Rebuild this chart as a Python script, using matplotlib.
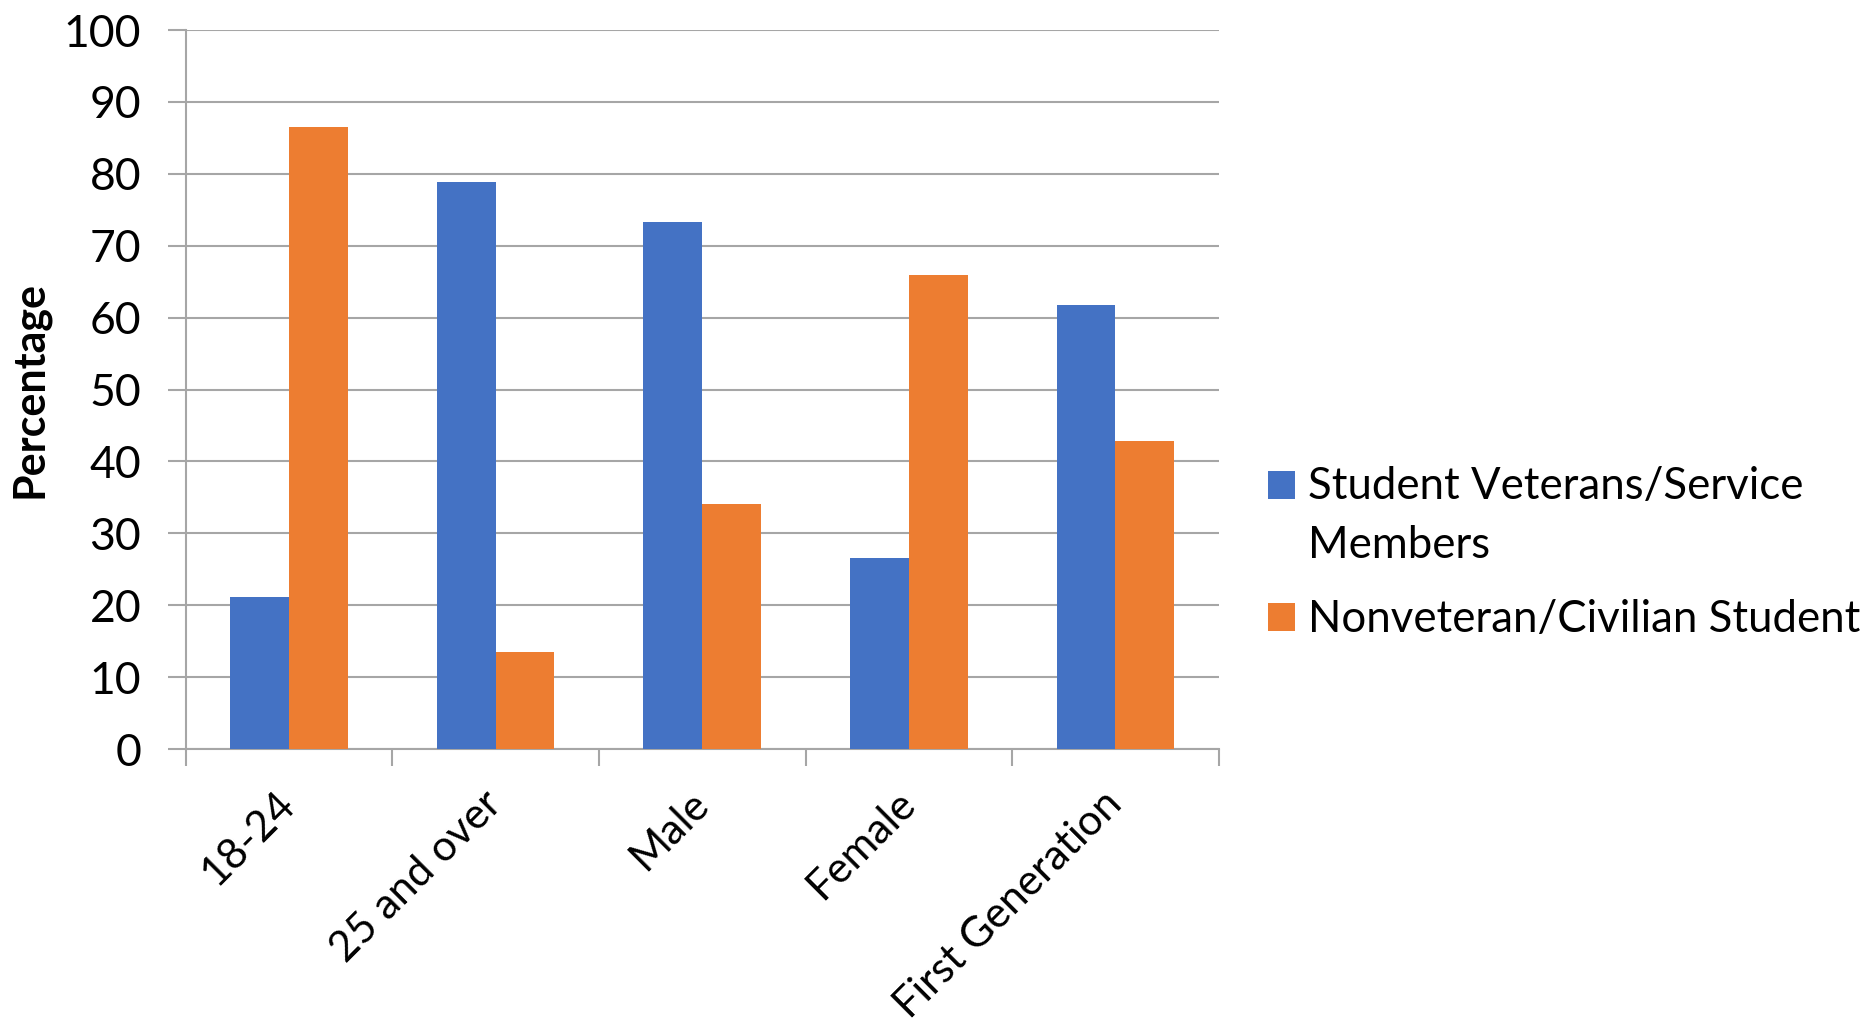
import numpy as np
import matplotlib
matplotlib.use("Agg")
import matplotlib.pyplot as plt

plt.rcParams['font.family'] = ['Lato', 'DejaVu Sans']

categories = ["18-24", "25 and over", "Male", "Female", "First Generation"]
veterans = [21.1, 78.9, 73.3, 26.6, 61.8]
civilians = [86.5, 13.5, 34.1, 65.9, 42.8]
series_names = ["Student Veterans/Service\nMembers", "Nonveteran/Civilian Student"]
yticks = list(range(0, 101, 10))

blue = '#4472C4'
orange = '#ED7D31'
grid = '#A6A6A6'
fs = 32

fig = plt.figure(figsize=(18.75, 10.36), dpi=100)
ax = fig.add_axes([0.099, 0.277, 0.551, 0.694])

x = np.arange(len(categories))
w = 0.285
ax.bar(x - w / 2, veterans, w, color=blue, label=series_names[0], zorder=3)
ax.bar(x + w / 2, civilians, w, color=orange, label=series_names[1], zorder=3)

ax.set_xlim(-0.5, len(categories) - 0.5)
ax.set_ylim(0, 100)
ax.set_yticks(yticks)
ax.tick_params(axis='y', labelsize=fs, length=13, width=1.5, color=grid, pad=19)
ax.yaxis.grid(True, color=grid, linewidth=1.5, zorder=0)

# category separators below the axis, labels at the centres
ax.set_xticks(np.arange(-0.5, len(categories), 1.0))
ax.set_xticks(x, minor=True)
ax.set_xticklabels([])
ax.set_xticklabels(categories, minor=True, rotation=45, ha='right', va='center',
                   rotation_mode='anchor', fontsize=30.5)
ax.tick_params(axis='x', which='major', length=12, width=1.5, color=grid)
ax.tick_params(axis='x', which='minor', length=0, pad=35)

for s in ['top', 'right']:
    ax.spines[s].set_visible(False)
for s in ['left', 'bottom']:
    ax.spines[s].set_color(grid)
    ax.spines[s].set_linewidth(1.5)

ax.set_ylabel("Percentage", fontsize=31, fontweight='bold', labelpad=10)

lfs = 31.5
leg = fig.legend(loc='center left', bbox_to_anchor=(0.655, 0.466), frameon=False,
                 fontsize=lfs, handlelength=0.62, handleheight=0.62,
                 handletextpad=0.3, labelspacing=0.75)
for t in leg.get_texts():
    t.set_linespacing(1.55)
# excel puts the marker beside the first line of a wrapped entry
line_gap = lfs * 1.55 * 1.2
h0 = leg.legend_handles[0]
h0.set_y(h0.get_y() + line_gap / 2 - 6)

fig.savefig("out.png", dpi=100)
